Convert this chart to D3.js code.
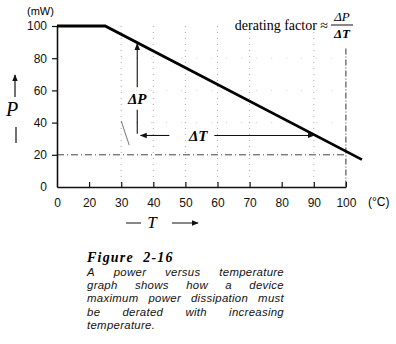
<!DOCTYPE html>
<html><head><meta charset="utf-8">
<script src="https://cdn.jsdelivr.net/npm/d3@7"></script>
<style>
html,body{margin:0;padding:0;background:#fff;}
svg{display:block;}
</style></head>
<body>
<script>
// ---- data ----
const xTicks = [0, 20, 30, 40, 50, 60, 70, 80, 90, 100];   // °C (non-uniform axis)
const yTicks = [0, 20, 40, 60, 80, 100];                   // mW
const deratingT = [0, 25, 105];                            // curve temperatures
const deratingP = [100, 100, 17];                          // curve powers (mW)
const gridT = [30, 40, 50, 60, 70, 90];
const deltaP = {t: 35, p0: 32, p1: 89};
const deltaT = {p: 32, t0: 36, t1: 90};
const captionTitle = "Figure  2-16";
const captionLines = [
  "A power versus temperature",
  "graph shows how a device",
  "maximum power dissipation must",
  "be derated with increasing",
  "temperature."
];

// ---- drawing ----
const W = 396, H = 344;
const svg = d3.select("body").append("svg").attr("width", W).attr("height", H);

const x0 = 57, step = 32.1;
const x = d3.scaleLinear().domain(xTicks).range(xTicks.map((d, i) => x0 + i * step));
const y = d3.scaleLinear().domain([0, 100]).range([187, 26]);

const defs = svg.append("defs");
defs.append("marker").attr("id", "ah").attr("viewBox", "0 0 10 10")
  .attr("refX", 9).attr("refY", 5).attr("markerWidth", 7).attr("markerHeight", 7)
  .attr("orient", "auto-start-reverse").attr("markerUnits", "userSpaceOnUse")
  .append("path").attr("d", "M0,1 L10,5 L0,9 Z").attr("fill", "#111");

// grid
svg.append("g").selectAll("line").data(gridT).join("line")
  .attr("x1", d => x(d)).attr("x2", d => x(d))
  .attr("y1", y(100)).attr("y2", y(0))
  .attr("stroke", "#aaa").attr("stroke-width", 1).attr("stroke-dasharray", "1,5");
svg.append("g").selectAll("line").data([40, 60, 80]).join("line")
  .attr("x1", x(30)).attr("x2", x(100))
  .attr("y1", d => y(d)).attr("y2", d => y(d))
  .attr("stroke", "#ccc").attr("stroke-width", 1).attr("stroke-dasharray", "1,14");
// 100 °C dash-dot vertical
svg.append("line").attr("x1", x(100)).attr("x2", x(100)).attr("y1", y(86)).attr("y2", y(0))
  .attr("stroke", "#333").attr("stroke-width", 1).attr("stroke-dasharray", "6,2,1,2");
// 20 mW dash-dot horizontal
svg.append("line").attr("x1", x(0)).attr("x2", x(100)).attr("y1", y(20)).attr("y2", y(20))
  .attr("stroke", "#444").attr("stroke-width", 1).attr("stroke-dasharray", "7,3,1,3");
// small leader stroke near 30 °C
svg.append("line").attr("x1", x(30)).attr("y1", y(41)).attr("x2", x(32.5)).attr("y2", y(26))
  .attr("stroke", "#777").attr("stroke-width", 1);

// axes
const yAxis = svg.append("g").attr("transform", `translate(${x(0)},0)`)
  .call(d3.axisLeft(y).tickValues(yTicks).tickSize(5).tickSizeOuter(0).tickPadding(5));
const xAxis = svg.append("g").attr("transform", `translate(0,${y(0)})`)
  .call(d3.axisBottom(x).tickValues(xTicks).tickSize(-5).tickSizeOuter(0).tickPadding(11));
[yAxis, xAxis].forEach(g => {
  g.select(".domain").attr("stroke", "#111").attr("stroke-width", 1.6);
  g.selectAll(".tick line").attr("stroke", "#111").attr("stroke-width", 1.2);
  g.selectAll("text").attr("font-family", "Liberation Sans, Arial, sans-serif")
    .attr("font-size", 12).attr("fill", "#111");
});
xAxis.selectAll(".tick").filter(d => d === 0).select("line").remove();
yAxis.selectAll(".tick").filter(d => d === 0).select("line").remove();

// derating curve
const pts = deratingT.map((t, i) => [t, deratingP[i]]);
svg.append("path").datum(pts)
  .attr("d", d3.line().x(d => x(d[0])).y(d => y(d[1])))
  .attr("fill", "none").attr("stroke", "#000").attr("stroke-width", 2.8);

// ΔP arrow (with gap for label)
svg.append("line").attr("x1", x(deltaP.t)).attr("x2", x(deltaP.t))
  .attr("y1", y(62)).attr("y2", y(deltaP.p1))
  .attr("stroke", "#111").attr("stroke-width", 1.1).attr("marker-end", "url(#ah)");
svg.append("line").attr("x1", x(deltaP.t)).attr("x2", x(deltaP.t))
  .attr("y1", y(48)).attr("y2", y(deltaP.p0 + 1))
  .attr("stroke", "#111").attr("stroke-width", 1.1);
svg.append("text").attr("x", x(deltaP.t)).attr("y", y(55)).attr("dy", "0.35em")
  .attr("text-anchor", "middle").attr("font-family", "Liberation Serif, serif")
  .attr("font-style", "italic").attr("font-weight", "bold").attr("font-size", 15)
  .text("ΔP");

// ΔT arrow (with gap for label)
const tLab = 54;
svg.append("line").attr("x1", x(45)).attr("x2", x(deltaT.t0))
  .attr("y1", y(deltaT.p)).attr("y2", y(deltaT.p))
  .attr("stroke", "#111").attr("stroke-width", 1.1).attr("marker-end", "url(#ah)");
svg.append("line").attr("x1", x(59)).attr("x2", x(deltaT.t1))
  .attr("y1", y(deltaT.p)).attr("y2", y(deltaT.p))
  .attr("stroke", "#111").attr("stroke-width", 1.1).attr("marker-end", "url(#ah)");
svg.append("text").attr("x", x(tLab)).attr("y", y(deltaT.p)).attr("dy", "0.35em")
  .attr("text-anchor", "middle").attr("font-family", "Liberation Serif, serif")
  .attr("font-style", "italic").attr("font-weight", "bold").attr("font-size", 15)
  .text("ΔT");

// unit labels
svg.append("text").attr("x", 27).attr("y", 15).attr("font-family", "Liberation Sans, Arial, sans-serif")
  .attr("font-size", 11).text("(mW)");
svg.append("text").attr("x", 368).attr("y", 206).attr("font-family", "Liberation Sans, Arial, sans-serif")
  .attr("font-size", 12).text("(°C)");

// Y axis title  ↑ P |
svg.append("line").attr("x1", 15).attr("x2", 15).attr("y1", 97).attr("y2", 75)
  .attr("stroke", "#111").attr("stroke-width", 1.2).attr("marker-end", "url(#ah)");
svg.append("text").attr("x", 12).attr("y", 116).attr("text-anchor", "middle")
  .attr("font-family", "Liberation Serif, serif").attr("font-style", "italic")
  .attr("font-size", 20).text("P");
svg.append("line").attr("x1", 16).attr("x2", 16).attr("y1", 127).attr("y2", 143)
  .attr("stroke", "#111").attr("stroke-width", 1.2);

// X axis title  — T →
svg.append("line").attr("x1", 126).attr("x2", 141).attr("y1", 223).attr("y2", 223)
  .attr("stroke", "#111").attr("stroke-width", 1);
svg.append("text").attr("x", 152).attr("y", 228).attr("text-anchor", "middle")
  .attr("font-family", "Liberation Serif, serif").attr("font-style", "italic")
  .attr("font-size", 17).text("T");
svg.append("line").attr("x1", 172).attr("x2", 198).attr("y1", 223).attr("y2", 223)
  .attr("stroke", "#111").attr("stroke-width", 1)
  .attr("marker-end", "url(#ah)");

// derating factor formula
const fx = 342;
svg.append("text").attr("x", 328).attr("y", 30).attr("text-anchor", "end")
  .attr("font-family", "Liberation Serif, serif").attr("font-size", 14)
  .text("derating factor ≈");
svg.append("text").attr("x", fx).attr("y", 21).attr("text-anchor", "middle")
  .attr("font-family", "Liberation Serif, serif").attr("font-style", "italic").attr("font-size", 13)
  .text("ΔP");
svg.append("line").attr("x1", fx - 11).attr("x2", fx + 11).attr("y1", 25).attr("y2", 25)
  .attr("stroke", "#111").attr("stroke-width", 1);
svg.append("text").attr("x", fx).attr("y", 38).attr("text-anchor", "middle")
  .attr("font-family", "Liberation Serif, serif").attr("font-style", "italic").attr("font-weight", "bold").attr("font-size", 13)
  .text("ΔT");

// caption
const capL = 87, capR = 284;
svg.append("text").attr("x", capL).attr("y", 262)
  .attr("font-family", "Liberation Serif, serif").attr("font-style", "italic").attr("font-weight", "bold")
  .attr("font-size", 14).attr("letter-spacing", 1.2).attr("xml:space", "preserve")
  .text(captionTitle);
const capG = svg.append("g");
captionLines.forEach((line, li) => {
  const yy = 276 + li * 13.2;
  const words = line.split(" ");
  const g = capG.append("g");
  const nodes = words.map(w => g.append("text").attr("y", yy)
    .attr("font-family", "Liberation Sans, Arial, sans-serif").attr("font-style", "italic")
    .attr("font-size", 11.4).attr("letter-spacing", 0.3).attr("fill", "#111").text(w));
  let widths = nodes.map(n => n.node().getComputedTextLength());
  let total = d3.sum(widths);
  const last = li === captionLines.length - 1;
  const avail = capR - capL;
  const gap = (last || words.length < 2) ? 4 : Math.max(3, (avail - total) / (words.length - 1));
  let cx = capL;
  nodes.forEach((n, i) => { n.attr("x", cx); cx += widths[i] + gap; });
});
</script>
</body></html>
